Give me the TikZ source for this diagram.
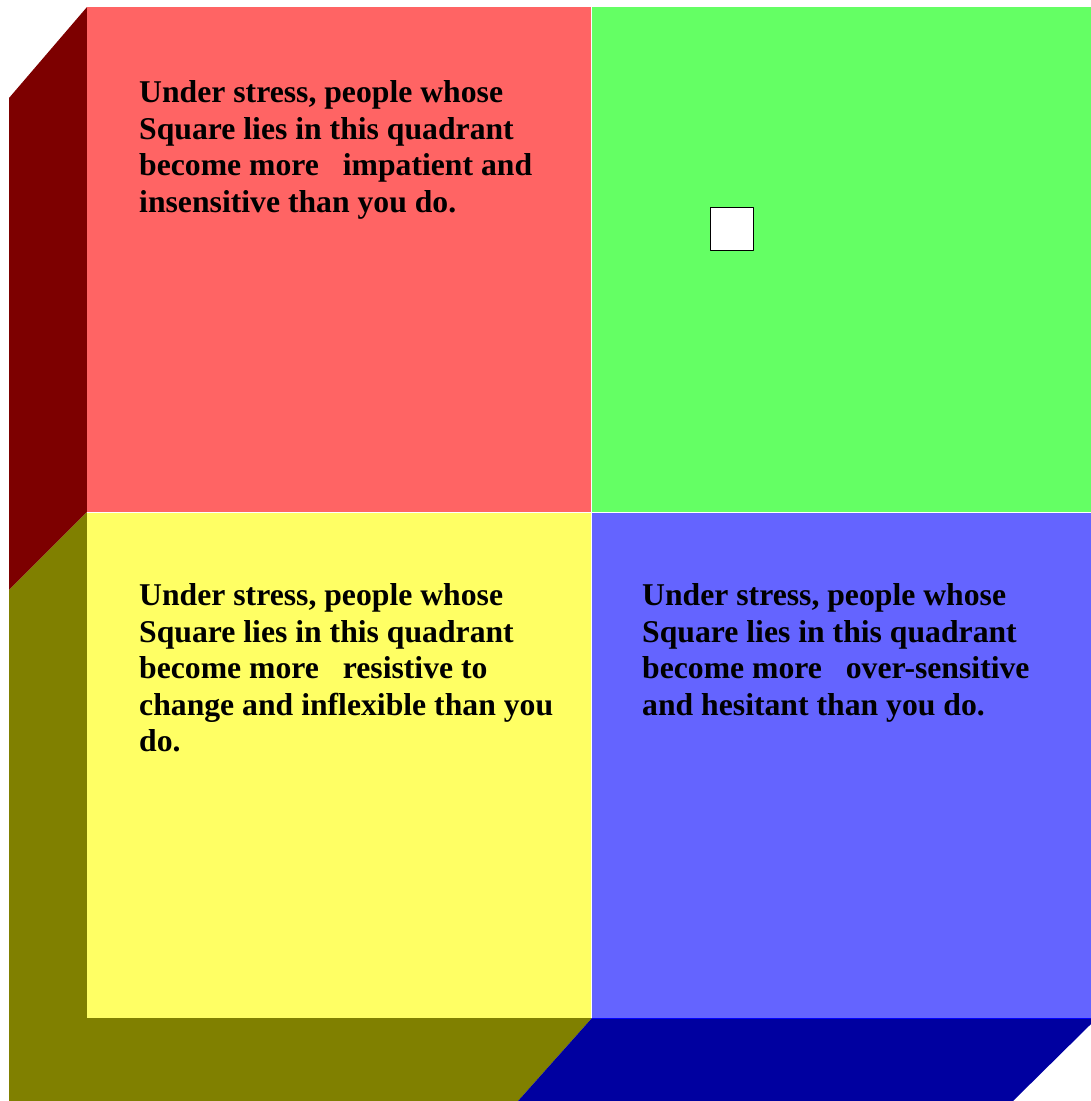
\documentclass[tikz,border=0pt]{standalone}
\usepackage{fontspec}
\setmainfont{Liberation Serif}
\definecolor{quadred}{HTML}{FF6464}
\definecolor{quadgreen}{HTML}{64FF64}
\definecolor{quadyellow}{HTML}{FFFF64}
\definecolor{quadblue}{HTML}{6464FF}
\definecolor{sidered}{HTML}{7D0000}
\definecolor{sideolive}{HTML}{808000}
\definecolor{sideblue}{HTML}{0000A0}
\begin{document}
\begin{tikzpicture}[x=1pt,y=-1pt,line join=round,
		quadtext/.style={font=\fontsize{31.7}{36.5}\selectfont\bfseries,align=left,anchor=base west,inner sep=0pt}]
		\useasboundingbox (0,0) rectangle (1091,1101);
		% sides
		\fill[sidered] (87,7)--(9,98)--(9,590)--(87,512)--cycle;
		\fill[sideolive] (87,512)--(9,590)--(9,1101)--(518,1101)--(592,1018)--(87,1018)--cycle;
		\fill[sideblue] (592,1018)--(1091,1018)--(1091,1024)--(1013,1101)--(518,1101)--cycle;
		% quadrants
		\fill[quadred] (87,7) rectangle (592,512.5);
		\fill[quadgreen] (592,7) rectangle (1091,512.5);
		\fill[quadyellow] (87,512.5) rectangle (592,1018);
		\fill[quadblue] (592,512.5) rectangle (1091,1018);
		\draw[white,line width=1.2pt] (591.5,7)--(591.5,1018);
		\draw[white,line width=1.2pt] (87,512.5)--(1091,512.5);
		\draw[blue,line width=1pt] (592,1018)--(1091,1018);
		% texts (anchored at the last line)
		\node[quadtext] (redtext) at (139,212) {Under stress, people whose\\Square lies in this quadrant\\become more\ \ \ impatient and\\insensitive than you do.};
		\node[quadtext] (yellowtext) at (139,751.5) {Under stress, people whose\\Square lies in this quadrant\\become more\ \ \ resistive to\\change and inflexible than you\\do.};
		\node[quadtext] (bluetext) at (642,715) {Under stress, people whose\\Square lies in this quadrant\\become more\ \ \ over-sensitive\\and hesitant than you do.};
		% the square
		\node[draw,fill=white,line width=1pt,minimum size=43pt,inner sep=0pt] (square) at (731.5,228.5) {};
	\end{tikzpicture}
\end{document}
